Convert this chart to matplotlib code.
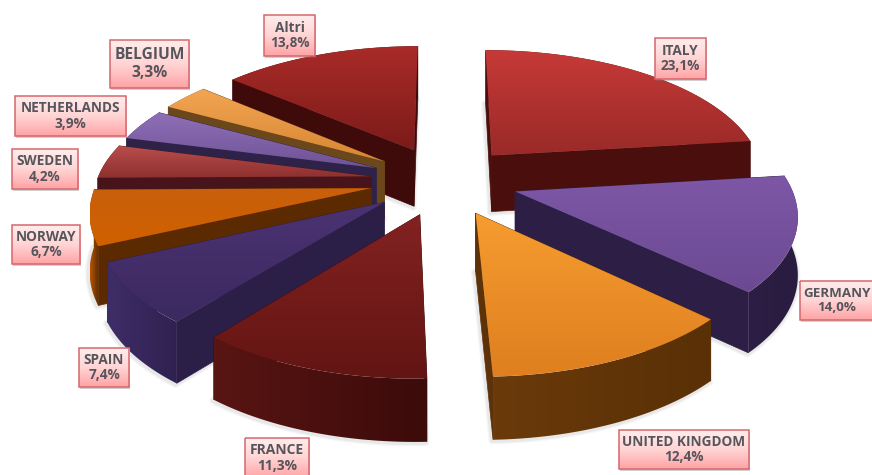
import numpy as np
import matplotlib
matplotlib.use("Agg")
import matplotlib.pyplot as plt
from matplotlib.colors import LinearSegmentedColormap
from matplotlib.patches import Polygon, Rectangle

countries = ["ITALY", "GERMANY", "UNITED KINGDOM", "FRANCE", "SPAIN",
             "NORWAY", "SWEDEN", "NETHERLANDS", "BELGIUM", "Altri"]
shares = [23.1, 14.0, 12.4, 11.3, 7.4, 6.7, 4.2, 3.9, 3.3, 13.8]

# top surface gradient (upper, lower) and wall colours for each slice
top_upper = ["#c63a38", "#7d57a6", "#f69c30", "#822221", "#4b3372",
             "#c95f0c", "#b94d4c", "#8f70b8", "#f2a552", "#a92b28"]
top_lower = ["#9a2a28", "#6c4a92", "#df7f1f", "#631513", "#3c2960",
             "#d06100", "#8d302f", "#6f5296", "#d88733", "#7c1b19"]
side_color = ["#4a0f0d", "#2c1e44", "#5e3208", "#3f0c0b", "#2b1e47",
              "#5c2a00", "#46141a", "#2e2248", "#6b471c", "#3f0a0a"]
rim_left = ["#4a0f0d", "#2c1e44", "#6a3a0a", "#581513", "#3f2d68",
            "#b85500", "#46141a", "#2e2248", "#6b471c", "#3f0a0a"]
rim_right = ["#4a0f0d", "#2a1c40", "#5a3006", "#3c0b0a", "#2f2150",
             "#5c2a00", "#46141a", "#2e2248", "#6b471c", "#3f0a0a"]

# label boxes: left, top, right, bottom in pixels, and text size in points
label_boxes = [(655, 38, 706, 79), (800, 281, 873, 320), (619, 430, 749, 469),
               (245, 438, 309, 478), (79, 348, 129, 387), (12, 225, 80, 264),
               (12, 149, 78, 189), (15, 96, 126, 136), (110, 40, 189, 88),
               (264, 15, 315, 56)]
label_sizes = [9.8, 9.6, 9.8, 10.0, 9.8, 9.8, 9.8, 9.8, 11.2, 9.8]

# back-to-front painting order
paint_order = [0, 9, 8, 7, 6, 5, 4, 1, 3, 2]

W, H = 872, 475
CX, CY = 444.0, 180.5      # projected pie centre
RX, RY = 274.0, 128.0      # ground-plane scale
PERSP = 0.15               # foreshortening along the depth axis
EXPLODE = 0.27             # radial offset of every slice
DEPTH = 57.0               # wall height

fig = plt.figure(figsize=(W / 100, H / 100), dpi=100, facecolor="white")
ax = fig.add_axes([0, 0, 1, 1])
ax.set_xlim(0, W)
ax.set_ylim(H, 0)
ax.axis("off")


def project(x, y, lifted=True):
    s = 1.0 / (1.0 + PERSP * y)
    px = CX + RX * x * s
    py = CY - RY * y * s
    if not lifted:
        py = py + DEPTH * np.sqrt(s)
    return px, py


def fill_gradient(poly_xy, first, second, z, horizontal=False):
    cmap = LinearSegmentedColormap.from_list("g", [first, second])
    x0, y0 = poly_xy.min(axis=0)
    x1, y1 = poly_xy.max(axis=0)
    patch = Polygon(poly_xy, closed=True, facecolor="none", edgecolor="none",
                    zorder=z)
    ax.add_patch(patch)
    ramp = np.linspace(0, 1, 64)
    ramp = ramp[None, :] if horizontal else ramp[:, None]
    img = ax.imshow(ramp, cmap=cmap, vmin=0, vmax=1, extent=[x0, x1, y1, y0],
                    aspect="auto", zorder=z, interpolation="bilinear")
    img.set_clip_path(patch)


edges = np.concatenate([[0], np.cumsum(shares)]) / np.sum(shares) * 2 * np.pi

z = 2.0
for i in paint_order:
    a0, a1 = edges[i], edges[i + 1]
    mid = 0.5 * (a0 + a1)
    ox, oy = EXPLODE * np.sin(mid), EXPLODE * np.cos(mid)
    t = np.linspace(a0, a1, 60)
    gx = np.concatenate([[ox], ox + np.sin(t)])
    gy = np.concatenate([[oy], oy + np.cos(t)])

    tx, ty = project(gx, gy, True)
    bx, by = project(gx, gy, False)
    top = np.column_stack([tx, ty])
    bottom = np.column_stack([bx, by])

    # soft grey halo along the lower outline
    for lw, alpha in [(5, 0.05), (3, 0.07)]:
        ax.plot(np.r_[bx, bx[0]] - 1, np.r_[by, by[0]] + 1, color="#444444",
                lw=lw, alpha=alpha, zorder=z, solid_capstyle="round")
    z += 0.01

    # the two radial faces, farther one first
    faces = [(gy[0] + gy[1], [0, 1]), (gy[0] + gy[-1], [0, len(gx) - 1])]
    faces.sort(key=lambda f: -f[0])
    for _, (j, k) in faces:
        quad = [(tx[j], ty[j]), (tx[k], ty[k]), (bx[k], by[k]), (bx[j], by[j])]
        ax.add_patch(Polygon(quad, closed=True, facecolor=side_color[i],
                             edgecolor=side_color[i], lw=0.5, zorder=z))
        z += 0.001

    # curved outer wall
    rim = np.vstack([top[1:], bottom[1:][::-1]])
    fill_gradient(rim, rim_left[i], rim_right[i], z, horizontal=True)
    z += 0.01

    fill_gradient(top, top_upper[i], top_lower[i], z)
    z += 0.01

# pink gradient call-outs
box_cmap = LinearSegmentedColormap.from_list("box", ["#ffecec", "#ffd4d4", "#ffa4a6"])
for name, value, size, (l, t, r, b) in zip(countries, shares, label_sizes, label_boxes):
    ax.add_patch(Rectangle((l + 1, t + 2), r - l, b - t, facecolor="#777777",
                           alpha=0.35, edgecolor="none", zorder=50))
    ax.imshow(np.linspace(0, 1, 32)[:, None], cmap=box_cmap, vmin=0, vmax=1,
              extent=[l, r, b, t], aspect="auto", zorder=51,
              interpolation="bilinear")
    ax.add_patch(Rectangle((l, t), r - l, b - t, facecolor="none",
                           edgecolor="#d5676d", lw=1.1, zorder=52))
    text = f"{name}\n{value:.1f}%".replace(".", ",")
    ax.text(0.5 * (l + r), 0.5 * (t + b), text, ha="center", va="center",
            color="#55555b", fontsize=size, fontweight="bold", family="Open Sans",
            linespacing=1.12, zorder=53)

ax.set_xlim(0, W)
ax.set_ylim(H, 0)
fig.savefig("out.png", dpi=100, facecolor="white")
